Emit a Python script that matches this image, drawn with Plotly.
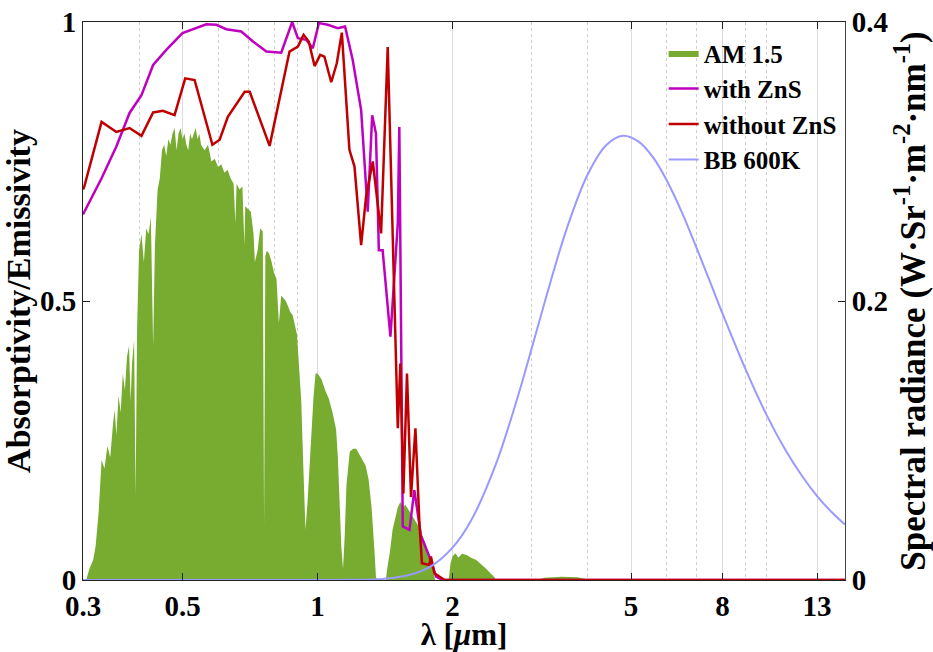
import plotly.graph_objects as go

# ---- AM 1.5 solar spectrum (normalized, left-axis units) ----
am_wl = [0.300, 0.305, 0.310, 0.316, 0.320, 0.325, 0.330, 0.335, 0.340, 0.345,
         0.350, 0.353, 0.356, 0.360, 0.364, 0.368, 0.372, 0.376, 0.380, 0.383,
         0.386, 0.390, 0.393, 0.396, 0.400, 0.405, 0.410, 0.415, 0.420, 0.425,
         0.430, 0.434, 0.440, 0.445, 0.450, 0.455, 0.460, 0.465, 0.470, 0.475,
         0.480, 0.485, 0.490, 0.495, 0.500, 0.505, 0.510, 0.515, 0.520, 0.525,
         0.530, 0.535, 0.540, 0.545, 0.550, 0.560, 0.570, 0.580, 0.590, 0.600,
         0.610, 0.620, 0.630, 0.640, 0.650, 0.656, 0.660, 0.670, 0.680, 0.687,
         0.690, 0.700, 0.710, 0.720, 0.725, 0.735, 0.745, 0.755, 0.760, 0.765,
         0.770, 0.780, 0.790, 0.800, 0.810, 0.820, 0.830, 0.840, 0.850, 0.860,
         0.870, 0.880, 0.890, 0.900, 0.910, 0.920, 0.930, 0.940, 0.950, 0.960,
         0.970, 0.980, 0.990, 1.000, 1.020, 1.040, 1.060, 1.080, 1.100, 1.110,
         1.120, 1.130, 1.140, 1.150, 1.160, 1.180, 1.200, 1.220, 1.240, 1.260,
         1.280, 1.300, 1.320, 1.340, 1.350, 1.360, 1.420, 1.430, 1.450, 1.470,
         1.490, 1.510, 1.530, 1.550, 1.570, 1.600, 1.630, 1.670, 1.700, 1.740,
         1.780, 1.800, 1.830, 1.960, 1.980, 2.000, 2.030, 2.060, 2.100, 2.150,
         2.200, 2.260, 2.320, 2.370, 2.430, 2.480, 2.500, 3.100, 3.200, 3.500,
         3.800, 4.000, 4.050, 15.0]
am_val = [0.000, 0.000, 0.020, 0.036, 0.060, 0.120, 0.215, 0.200, 0.240, 0.220,
          0.280, 0.305, 0.260, 0.330, 0.300, 0.370, 0.340, 0.400, 0.420, 0.320,
          0.390, 0.430, 0.150, 0.450, 0.590, 0.620, 0.570, 0.630, 0.620, 0.650,
          0.420, 0.600, 0.700, 0.720, 0.770, 0.780, 0.760, 0.790, 0.780, 0.800,
          0.810, 0.770, 0.800, 0.810, 0.790, 0.800, 0.780, 0.770, 0.800, 0.790,
          0.800, 0.810, 0.790, 0.800, 0.780, 0.770, 0.780, 0.750, 0.755, 0.740,
          0.745, 0.730, 0.735, 0.720, 0.710, 0.640, 0.710, 0.700, 0.705, 0.600,
          0.670, 0.665, 0.660, 0.620, 0.570, 0.590, 0.630, 0.625, 0.100, 0.580,
          0.590, 0.585, 0.570, 0.550, 0.540, 0.460, 0.510, 0.505, 0.500, 0.490,
          0.480, 0.475, 0.460, 0.440, 0.380, 0.320, 0.200, 0.090, 0.140, 0.200,
          0.280, 0.330, 0.370, 0.370, 0.360, 0.340, 0.325, 0.300, 0.270, 0.220,
          0.140, 0.060, 0.020, 0.080, 0.170, 0.230, 0.235, 0.235, 0.225, 0.215,
          0.205, 0.180, 0.130, 0.050, 0.005, 0.000, 0.000, 0.020, 0.050, 0.090,
          0.110, 0.130, 0.140, 0.130, 0.135, 0.125, 0.115, 0.100, 0.085, 0.066,
          0.040, 0.024, 0.000, 0.000, 0.030, 0.042, 0.048, 0.040, 0.047, 0.045,
          0.040, 0.036, 0.028, 0.021, 0.012, 0.005, 0.000, 0.000, 0.004, 0.006,
          0.005, 0.002, 0.000, 0.000]

# ---- Absorptivity / emissivity with ZnS ----
zns_wl = [0.300, 0.330, 0.356, 0.381, 0.405, 0.430, 0.460, 0.500, 0.565, 0.595,
          0.626, 0.676, 0.718, 0.769, 0.830, 0.878, 0.904, 0.944, 0.976, 1.007,
          1.054, 1.110, 1.152, 1.198, 1.251, 1.294, 1.324, 1.350, 1.370, 1.397,
          1.454, 1.510, 1.522, 1.535, 1.549, 1.603, 1.644, 1.700, 1.776, 1.838,
          1.900, 15.0]
zns_val = [0.655, 0.720, 0.777, 0.837, 0.869, 0.923, 0.950, 0.980, 0.996, 0.995,
           0.987, 0.983, 0.965, 0.947, 0.945, 1.000, 0.971, 0.968, 0.953, 0.998,
           0.995, 0.989, 0.992, 0.932, 0.842, 0.660, 0.833, 0.800, 0.591, 0.591,
           0.436, 0.639, 0.812, 0.394, 0.096, 0.090, 0.161, 0.080, 0.042, 0.006,
           0.000, 0.000]

# ---- Absorptivity / emissivity without ZnS ----
nozns_wl = [0.300, 0.302, 0.330, 0.356, 0.381, 0.405, 0.430, 0.452, 0.480, 0.507,
            0.532, 0.583, 0.605, 0.631, 0.688, 0.706, 0.782, 0.837, 0.866, 0.904,
            0.931, 0.956, 0.985, 1.014, 1.036, 1.073, 1.104, 1.133, 1.178, 1.209,
            1.251, 1.283, 1.328, 1.386, 1.434, 1.510, 1.530, 1.554, 1.583, 1.616,
            1.653, 1.686, 1.709, 1.776, 1.790, 1.823, 1.920, 15.0]
nozns_val = [0.700, 0.705, 0.821, 0.803, 0.810, 0.796, 0.838, 0.841, 0.833, 0.899,
             0.896, 0.780, 0.789, 0.830, 0.875, 0.875, 0.778, 0.893, 0.947, 0.956,
             0.977, 0.965, 0.921, 0.941, 0.938, 0.892, 0.926, 0.981, 0.771, 0.741,
             0.600, 0.687, 0.750, 0.621, 0.955, 0.272, 0.388, 0.155, 0.370, 0.149,
             0.272, 0.108, 0.030, 0.027, 0.042, 0.012, 0.000, 0.000]

# ---- Blackbody 600 K spectral radiance (right axis) ----
bb_wl = [0.30, 1.00, 1.20, 1.40, 1.60, 1.80, 2.00, 2.20, 2.50, 2.80, 3.00, 3.30,
         3.60, 4.00, 4.40, 4.80, 5.20, 5.60, 6.00, 6.50, 7.00, 7.50, 8.00, 9.00,
         10.0, 11.0, 12.0, 13.0, 14.0, 15.0]
bb_val = [0.0, 0.0000046, 0.0001, 0.000805, 0.00353, 0.01035, 0.0232, 0.04266,
          0.0833, 0.1321, 0.1656, 0.2126, 0.2524, 0.2905, 0.3117, 0.3184, 0.3142,
          0.3029, 0.2867, 0.2632, 0.2381, 0.2139, 0.1909, 0.1511, 0.1191, 0.0943,
          0.0751, 0.0602, 0.0487, 0.0397]

x_tickvals = [0.3, 0.5, 1, 2, 5, 8, 13]
x_ticktext = ["0.3", "0.5", "1", "2", "5", "8", "13"]
x_minor = [0.4, 0.6, 0.7, 0.8, 0.9, 3, 4, 6, 7, 9, 10]
yl_tickvals = [0, 0.5, 1]
yl_ticktext = ["0", "0.5", "1"]
yr_tickvals = [0, 0.2, 0.4]
yr_ticktext = ["0", "0.2", "0.4"]

FONT = "Liberation Serif"
TICK = 29
TITLE = 34

tickfont = dict(family=FONT, size=TICK, color="black", weight="bold")
titlefont = dict(family=FONT, size=TITLE, color="black", weight="bold")

fig = go.Figure()
fig.add_trace(go.Scatter(x=am_wl, y=am_val, name="AM 1.5", mode="lines",
                         fill="tozeroy", fillcolor="#77AC30",
                         line=dict(width=0, color="#77AC30")))
fig.add_trace(go.Scatter(x=zns_wl, y=zns_val, name="with ZnS", mode="lines",
                         line=dict(width=2.5, color="#BF00BF")))
fig.add_trace(go.Scatter(x=nozns_wl, y=nozns_val, name="without ZnS", mode="lines",
                         line=dict(width=2.5, color="#C00000")))
fig.add_trace(go.Scatter(x=bb_wl, y=bb_val, name="BB 600K", mode="lines",
                         yaxis="y2", line=dict(width=2, color="#9999FF", shape="spline")))

fig.update_layout(
    width=933, height=652,
    margin=dict(l=83, r=88, t=22, b=72),
    paper_bgcolor="white", plot_bgcolor="white",
    font=dict(family=FONT, size=TICK, color="black", weight="bold"),
    showlegend=True,
    legend=dict(x=0.762, y=0.985, xanchor="left", yanchor="top",
                bgcolor="rgba(0,0,0,0)", borderwidth=0,
                font=dict(family=FONT, size=25, color="black", weight="bold"),
                itemwidth=30, tracegroupgap=0),
    xaxis=dict(type="log", range=[-0.5229, 1.1761], automargin=False,
               tickvals=x_tickvals, ticktext=x_ticktext, tickfont=tickfont,
               ticks="inside", ticklen=7, tickcolor="#222", ticklabelstandoff=0,
               showline=True, linecolor="#222", linewidth=1, mirror="ticks",
               showgrid=True, gridcolor="#dcdcdc", gridwidth=1,
               minor=dict(tickvals=x_minor, showgrid=True, griddash="dot",
                          gridcolor="#cfcfcf", gridwidth=1, ticks=""),
               zeroline=False,
               title=dict(text="λ [<i>μ</i>m]", standoff=4,
                          font=dict(family=FONT, size=31, color="black", weight="bold"))),
    yaxis=dict(range=[0, 1], automargin=False,
               tickvals=yl_tickvals, ticktext=yl_ticktext, tickfont=tickfont,
               ticks="inside", ticklen=7, tickcolor="#222",
               showline=True, linecolor="#222", linewidth=1,
               showgrid=False, zeroline=False,
               title=dict(text="Absorptivity/Emissivity", standoff=0, font=titlefont)),
    yaxis2=dict(range=[0, 0.4], overlaying="y", side="right", automargin=False,
                tickvals=yr_tickvals, ticktext=yr_ticktext, tickfont=tickfont,
                ticks="inside", ticklen=7, tickcolor="#222",
                showline=True, linecolor="#444", linewidth=1,
                showgrid=False, zeroline=False,
                title=dict(text="Spectral radiance (W·Sr<sup>-1</sup>·m<sup>-2</sup>·nm<sup>-1</sup>)",
                           standoff=0, font=dict(family=FONT, size=35, color="black", weight="bold"))),
)

fig.write_html("out.html")
